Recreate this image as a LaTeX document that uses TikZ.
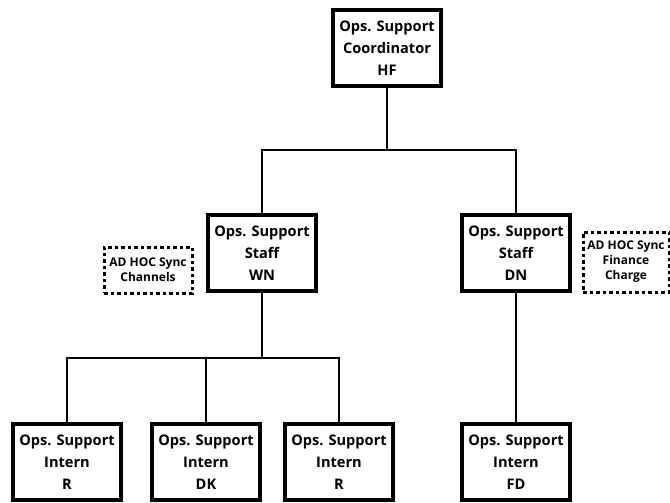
\documentclass[tikz,border=0pt]{standalone}
\usepackage{fontspec}
\setmainfont{Open Sans}
\usepackage{tikz}
\usetikzlibrary{calc}
\usetikzlibrary{positioning}

\begin{document}
\begin{tikzpicture}[x=1pt,y=-1pt,
		role/.style={draw,line width=4pt,minimum width=108pt,minimum height=76pt,inner sep=0pt,
			align=center,font=\fontsize{14.6}{22}\selectfont\bfseries},
		adhoc/.style={draw,line width=3pt,dash pattern=on 3.5pt off 3pt,inner sep=0pt,
			align=center,font=\fontsize{12}{15}\selectfont\bfseries},
		link/.style={line width=2pt}]
		\useasboundingbox (0,0) rectangle (670,503);
		% top
		\node[role] (hf) at (387,48) {Ops. Support\\Coordinator\\HF};
		% staff
		\node[role] (wn) at (262,253) {Ops. Support\\Staff\\WN};
		\node[role] (dn) at (516,253) {Ops. Support\\Staff\\DN};
		\node[adhoc,minimum width=88pt,minimum height=46pt] (chan) at (148,270) {AD HOC Sync\\Channels};
		\node[adhoc,minimum width=86pt,minimum height=60pt] (fin) at (626,262) {AD HOC Sync\\Finance\\Charge};
		% interns
		\node[role] (r1) at (67,462) {Ops. Support\\Intern\\R};
		\node[role] (dk) at (206,462) {Ops. Support\\Intern\\DK};
		\node[role] (r2) at (339,462) {Ops. Support\\Intern\\R};
		\node[role] (fd) at (516,462) {Ops. Support\\Intern\\FD};
		% connectors
		\coordinate (top split) at (hf.south |- 0,150);
		\coordinate (staff split) at (wn.south |- 0,358);
		\draw[link] (hf.south) -- (top split);
		\draw[link] (wn.north) |- (top split) -| (dn.north);
		\draw[link] (wn.south) -- (staff split);
		\draw[link] (r1.north) |- (staff split) -| (r2.north);
		\draw[link] (dk.north) -- (dk.north |- staff split);
		\draw[link] (dn.south) -- (fd.north);
	\end{tikzpicture}
\end{document}
